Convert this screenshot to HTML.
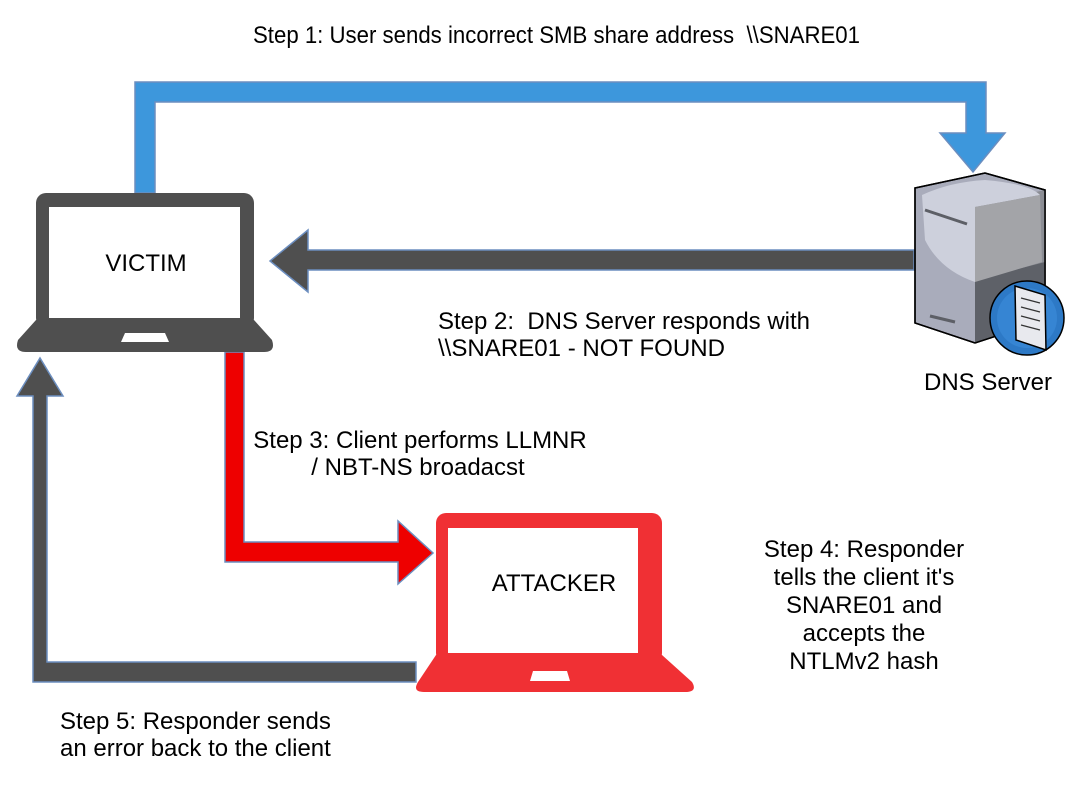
<!DOCTYPE html>
<html><head><meta charset="utf-8"><style>
html,body{margin:0;padding:0;background:#fff;}
svg{display:block;}
text{font-family:"Liberation Sans",Arial,sans-serif;font-size:24px;fill:#000;}
</style></head><body>
<svg width="1087" height="789" viewBox="0 0 1087 789" xmlns="http://www.w3.org/2000/svg">
<!-- Step 1 blue arrow -->
<path d="M135,193 L135,82 L986,82 L986,133 L1005,133 L973,172 L940,133 L966,133 L966,102 L155,102 L155,193 Z" fill="#3d97dc" stroke="#6c8ebf" stroke-width="1.5"/>
<!-- Step 2 gray arrow -->
<path d="M914,250 L308,250 L308,230 L270,261 L308,292 L308,270 L914,270 Z" fill="#4f4f4f" stroke="#6c8ebf" stroke-width="1.5"/>
<!-- Step 3 red arrow -->
<path d="M225,352 L244,352 L244,542 L398,542 L398,521 L433,553 L398,584 L398,562 L225,562 Z" fill="#ee0000" stroke="#6c8ebf" stroke-width="1.5"/>
<!-- Step 5 gray arrow -->
<path d="M416,662 L47,662 L47,396 L63,396 L40,358 L17,396 L33,396 L33,682 L416,682 Z" fill="#4f4f4f" stroke="#6c8ebf" stroke-width="1.5"/>

<!-- Victim laptop -->
<rect x="36" y="193" width="218" height="135" rx="10" fill="#4f4f4f"/>
<rect x="49" y="207" width="191" height="111" fill="#fff"/>
<path d="M36,320 L254,320 L272,340 Q276,352 264,352 L26,352 Q14,352 18,340 Z" fill="#4f4f4f"/>
<path d="M125,333 L165,333 L169,342 L121,342 Z" fill="#fff"/>
<text x="146" y="271" text-anchor="middle">VICTIM</text>

<!-- Attacker laptop -->
<rect x="436" y="513" width="226" height="150" rx="10" fill="#f03034"/>
<rect x="448" y="528" width="190" height="125" fill="#fff"/>
<path d="M436,655 L662,655 L692,682 Q698,692 685,692 L424,692 Q412,692 418,682 Z" fill="#f03034"/>
<path d="M533,671 L567,671 L570,681 L530,681 Z" fill="#fff"/>
<text x="554" y="591" text-anchor="middle">ATTACKER</text>

<!-- DNS Server -->
<path d="M915,188 L985,173 L1045,190 L1045,320 L975,343 L915,323 Z" fill="#a9acbb" stroke="#000" stroke-width="1.5"/>
<path d="M975,205 L1045,190 L1045,320 L975,343 Z" fill="#8b8d94"/>
<path d="M975,280 L1045,262 L1045,320 L975,343 Z" fill="#5e6168"/>
<path d="M922,195 Q950,182 985,180 Q1030,184 1040,195 L975,207 L975,282 Q940,270 925,240 Z" fill="#cdd0dc"/>
<path d="M975,207 L1040,195 L1042,262 L975,282 Z" fill="#a3a4a8"/>
<path d="M925,210 L967,224" stroke="#5d5f66" stroke-width="3"/>
<path d="M930,316 L955,322" stroke="#5d5f66" stroke-width="3"/>
<path d="M915,188 L985,173 L1045,190 L1045,320 L975,343 L915,323 Z" fill="none" stroke="#000" stroke-width="1.5"/>
<circle cx="1027" cy="318" r="37" fill="#2d79c6" stroke="#000" stroke-width="1.5"/>
<circle cx="1027" cy="318" r="30" fill="#3a8ad8" opacity="0.7"/>
<path d="M1015,286 L1045,295 L1046,350 L1016,340 Z" fill="#e8e9ee" stroke="#000" stroke-width="1.5"/>
<path d="M1021,298 L1040,303 M1021,307 L1040,312 M1021,316 L1040,321 M1021,325 L1040,330" stroke="#333" stroke-width="1.3"/>
<text x="988" y="390" text-anchor="middle">DNS Server</text>

<!-- Labels -->
<text x="253" y="43" textLength="607" lengthAdjust="spacingAndGlyphs" xml:space="preserve">Step 1: User sends incorrect SMB share address  \\SNARE01</text>
<text x="438" y="329" xml:space="preserve" textLength="372" lengthAdjust="spacingAndGlyphs">Step 2:  DNS Server responds with</text>
<text x="438" y="356" textLength="287" lengthAdjust="spacingAndGlyphs">\\SNARE01 - NOT FOUND</text>
<text x="420" y="448" text-anchor="middle">Step 3: Client performs LLMNR</text>
<text x="418" y="475" text-anchor="middle">/ NBT-NS broadacst</text>
<text x="864" y="557" text-anchor="middle">Step 4: Responder</text>
<text x="864" y="585" text-anchor="middle">tells the client it's</text>
<text x="864" y="613" text-anchor="middle">SNARE01 and</text>
<text x="864" y="641" text-anchor="middle">accepts the</text>
<text x="864" y="669" text-anchor="middle">NTLMv2 hash</text>
<text x="60" y="729">Step 5: Responder sends</text>
<text x="60" y="756">an error back to the client</text>
</svg>
</body></html>
